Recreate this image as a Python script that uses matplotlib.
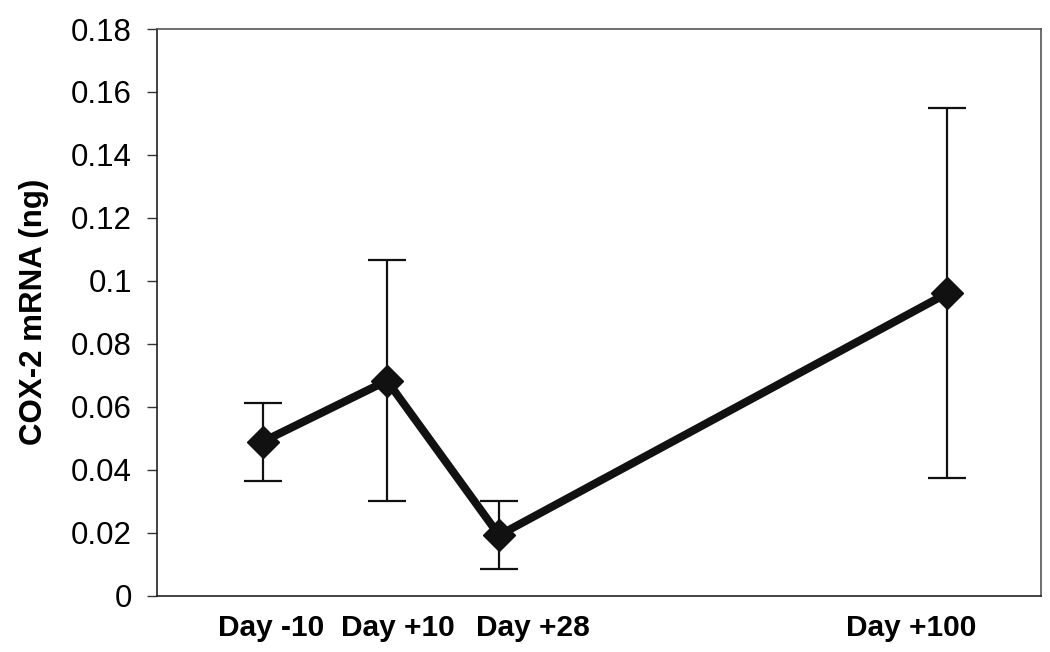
import matplotlib
matplotlib.use("Agg")
import matplotlib.pyplot as plt
import matplotlib.transforms as mtransforms

# COX-2 mRNA by sampling day (mean with error bars)
days = [-10, 10, 28, 100]
day_labels = ["Day -10", "Day +10", "Day +28", "Day +100"]
cox2 = [0.0489, 0.0683, 0.0192, 0.0961]
err = [0.0124, 0.0383, 0.0108, 0.0587]

# horizontal nudges (px) of the category labels, as in the original layout
label_shift_px = [9, 11, 34, -36]

plt.rcParams["font.family"] = ["Liberation Sans", "DejaVu Sans"]

fig = plt.figure(figsize=(10.5, 6.52), dpi=100)
ax = fig.add_axes([0.1492, 0.0863, 0.8420, 0.8692])

ax.errorbar(days, cox2, yerr=err, fmt="none", ecolor="#111111",
            elinewidth=1.6, capsize=14, capthick=1.6, zorder=2)
ax.plot(days, cox2, color="#111111", lw=5.8, marker="D", ms=16,
        mfc="#111111", mec="#111111", zorder=3)

ax.set_xlim(-27, 115)
ax.set_ylim(0, 0.18)
ax.set_yticks([0, 0.02, 0.04, 0.06, 0.08, 0.1, 0.12, 0.14, 0.16, 0.18])
ax.set_yticklabels(["0", "0.02", "0.04", "0.06", "0.08", "0.1", "0.12",
                    "0.14", "0.16", "0.18"])
ax.tick_params(axis="y", direction="out", length=7.2, width=1.0,
               color="#333333", labelsize=22.5, pad=10.5)

ax.set_xticks(days)
ax.set_xticklabels(day_labels, fontsize=21.5, fontweight="bold")
ax.tick_params(axis="x", length=0, pad=13)
for lab, dx in zip(ax.get_xticklabels(), label_shift_px):
    lab.set_transform(lab.get_transform() +
                      mtransforms.ScaledTranslation(dx / 100, 0, fig.dpi_scale_trans))

ax.set_ylabel("COX-2 mRNA (ng)", fontsize=22.5, fontweight="bold", labelpad=16)

for side in ("left", "bottom"):
    ax.spines[side].set_color("#222222")
    ax.spines[side].set_linewidth(1.2)
for side in ("top", "right"):
    ax.spines[side].set_color("#555555")
    ax.spines[side].set_linewidth(1.2)

fig.savefig("out.png", dpi=100)
